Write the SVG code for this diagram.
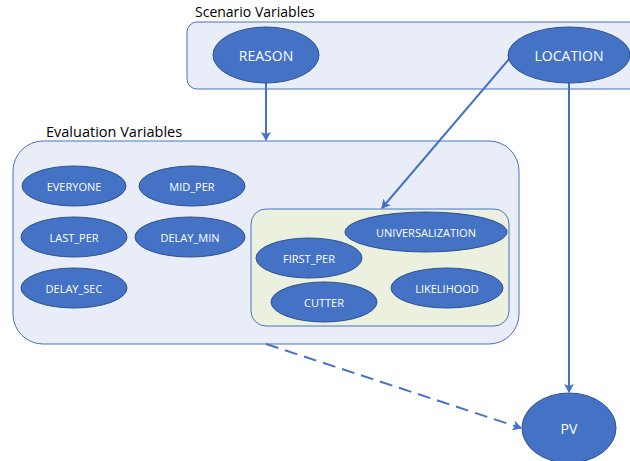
<svg xmlns="http://www.w3.org/2000/svg" width="630" height="461" viewBox="0 0 630 461">
<defs>
<marker id="ah" markerWidth="10" markerHeight="10" refX="8" refY="5" orient="auto" markerUnits="userSpaceOnUse">
<path d="M0,0 L9,5 L0,10 L2,5 Z" fill="#4472C4"/>
</marker>
<style>
.box{fill:#E9EDF7;stroke:#4472C4;stroke-width:1}
.green{fill:#EBF1DE;stroke:#4472C4;stroke-width:1}
.node{fill:#4472C4;stroke:#2F528F;stroke-width:1}
.lbl{font-family:"Open Sans","Liberation Sans",sans-serif;font-size:11px;fill:#FFFFFF;text-anchor:middle;dominant-baseline:central}
.big{font-size:14px}
.title{font-family:"Open Sans","Liberation Sans",sans-serif;font-size:14px;fill:#000000}
.conn{stroke:#4472C4;stroke-width:2;fill:none}
</style>
</defs>
<rect width="630" height="461" fill="#FFFFFF"/>
<g id="scenario">
<rect class="box" x="187" y="22" width="460" height="67" rx="10"/>
<text class="title" x="195" y="17">Scenario Variables</text>
</g>
<g id="evaluation">
<rect class="box" x="13" y="141" width="506" height="203" rx="30"/>
<text class="title" x="46" y="137" style="font-size:14.5px">Evaluation Variables</text>
</g>
<g id="cluster">
<rect class="green" x="251" y="209" width="258" height="117" rx="15"/>
</g>
<g id="connectors">
<line class="conn" x1="266" y1="83" x2="266" y2="140" marker-end="url(#ah)"/>
<line class="conn" x1="510" y1="58" x2="382" y2="208" marker-end="url(#ah)"/>
<line class="conn" x1="569" y1="83" x2="569" y2="392" marker-end="url(#ah)"/>
<line class="conn" x1="266" y1="344" x2="521" y2="428" stroke-width="2.5" stroke-dasharray="13 7" marker-end="url(#ah)"/>
</g>
<g id="REASON"><ellipse class="node" cx="266" cy="55" rx="53" ry="28"/><text class="lbl big" x="266" y="55">REASON</text></g>
<g id="LOCATION"><ellipse class="node" cx="569" cy="55" rx="61" ry="28"/><text class="lbl big" x="569" y="55">LOCATION</text></g>
<g id="EVERYONE"><ellipse class="node" cx="74" cy="186" rx="52" ry="20"/><text class="lbl" x="74" y="186">EVERYONE</text></g>
<g id="MID_PER"><ellipse class="node" cx="192" cy="186" rx="53" ry="20"/><text class="lbl" x="192" y="186">MID_PER</text></g>
<g id="LAST_PER"><ellipse class="node" cx="74" cy="237" rx="53" ry="20"/><text class="lbl" x="74" y="237">LAST_PER</text></g>
<g id="DELAY_MIN"><ellipse class="node" cx="190" cy="237" rx="55" ry="20"/><text class="lbl" x="190" y="237">DELAY_MIN</text></g>
<g id="DELAY_SEC"><ellipse class="node" cx="74" cy="288" rx="53" ry="20"/><text class="lbl" x="74" y="288">DELAY_SEC</text></g>
<g id="UNIVERSALIZATION"><ellipse class="node" cx="426" cy="232" rx="81" ry="20"/><text class="lbl" x="426" y="232">UNIVERSALIZATION</text></g>
<g id="FIRST_PER"><ellipse class="node" cx="309" cy="258" rx="53" ry="20"/><text class="lbl" x="309" y="258">FIRST_PER</text></g>
<g id="LIKELIHOOD"><ellipse class="node" cx="447" cy="288" rx="56" ry="20"/><text class="lbl" x="447" y="288">LIKELIHOOD</text></g>
<g id="CUTTER"><ellipse class="node" cx="324" cy="302" rx="53" ry="20"/><text class="lbl" x="324" y="302">CUTTER</text></g>
<g id="PV"><ellipse class="node" cx="569" cy="428" rx="47" ry="35"/><text class="lbl big" x="569" y="428">PV</text></g>
</svg>
